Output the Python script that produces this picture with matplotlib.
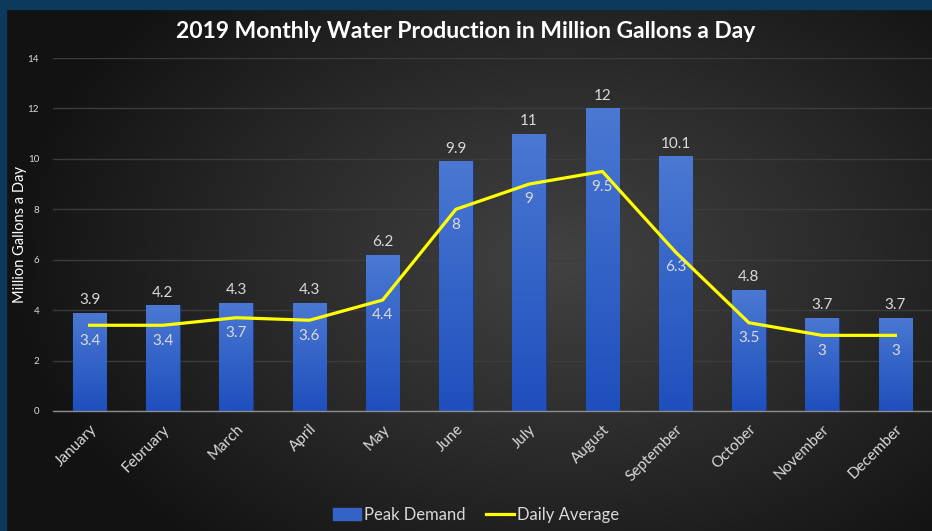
import numpy as np
import matplotlib
matplotlib.use("Agg")
import matplotlib.pyplot as plt
from matplotlib.colors import LinearSegmentedColormap
from matplotlib.patches import Rectangle
from matplotlib.lines import Line2D

months = ["January", "February", "March", "April", "May", "June",
          "July", "August", "September", "October", "November", "December"]
peak_demand = [3.9, 4.2, 4.3, 4.3, 6.2, 9.9, 11, 12, 10.1, 4.8, 3.7, 3.7]
daily_average = [3.4, 3.4, 3.7, 3.6, 4.4, 8, 9, 9.5, 6.3, 3.5, 3, 3]
y_ticks = [0, 2, 4, 6, 8, 10, 12, 14]

plt.rcParams["font.family"] = ["Lato", "DejaVu Sans"]
txt = "#d9d9d9"

fig = plt.figure(figsize=(9.32, 5.31), dpi=100)

# radial background
bg = fig.add_axes([0, 0, 1, 1], zorder=-10)
yy, xx = np.mgrid[0:531, 0:932]
r = np.sqrt(((xx - 560) / 560.0) ** 2 + ((yy - 260) / 380.0) ** 2)
r = np.clip(r, 0, 1)
bg_cmap = LinearSegmentedColormap.from_list("bg", ["#424242", "#2b2b2b", "#121212"])
bg.imshow(r, cmap=bg_cmap, aspect="auto", extent=[0, 1, 0, 1], origin="upper")
bg.set_xlim(0, 1)
bg.set_ylim(0, 1)
bg.axis("off")

# navy frame on top and left
fig.patches.append(Rectangle((0, 1 - 9 / 531), 1, 9 / 531, transform=fig.transFigure,
                             color="#0b3a5c", zorder=5))
fig.patches.append(Rectangle((0, 0), 6 / 932, 1, transform=fig.transFigure,
                             color="#0b3a5c", zorder=5))

ax = fig.add_axes([53 / 932, 120 / 531, 879 / 932, 353 / 531])
ax.patch.set_alpha(0)
x = np.arange(len(months))

bars = ax.bar(x, peak_demand, width=0.46, color="#3463c8", edgecolor="#1c3c86",
              linewidth=0.8, zorder=2, label="Peak Demand")
grad = LinearSegmentedColormap.from_list("bar", ["#1f4fbd", "#4a78d2"])
for b in bars:
    bx = b.get_x()
    im = ax.imshow(np.linspace(0, 1, 100).reshape(-1, 1), cmap=grad, aspect="auto",
                   origin="lower", extent=[bx, bx + b.get_width(), 0, b.get_height()],
                   zorder=2.5)
    im.set_clip_path(b)

ax.plot(x, daily_average, color="#ffff00", lw=2.3, zorder=4, label="Daily Average")

for i, v in enumerate(peak_demand):
    ax.annotate(f"{v:g}", (x[i], v), xytext=(0, 4), textcoords="offset points",
                ha="center", va="bottom", color=txt, fontsize=11, zorder=5)
for i, v in enumerate(daily_average):
    ax.annotate(f"{v:g}", (x[i], v), xytext=(0, -6), textcoords="offset points",
                ha="center", va="top", color=txt, fontsize=11, zorder=5)

ax.set_xlim(-0.5, len(months) - 0.5)
ax.set_ylim(0, 14)
ax.set_yticks(y_ticks)
ax.set_yticklabels([str(t) for t in y_ticks], color=txt, fontsize=7)
ax.set_xticks(x)
ax.set_xticklabels(months, rotation=45, ha="right", va="top", rotation_mode="anchor",
                   color=txt, fontsize=11)
ax.tick_params(length=0)
ax.tick_params(axis="y", pad=10)
ax.tick_params(axis="x", pad=8)
ax.grid(axis="y", color="#3c3c3c", lw=1, zorder=0)
for s in ["top", "right", "left"]:
    ax.spines[s].set_visible(False)
ax.spines["bottom"].set_color("#8c8c8c")
ax.spines["bottom"].set_linewidth(1)
ax.spines["bottom"].set_zorder(3)

ax.set_ylabel("Million Gallons a Day", color="white", fontsize=10.5)
ax.yaxis.label.set_va("center")
ax.yaxis.set_label_coords(-33 / 879, 0.5)

fig.text(0.5, 1 - 32 / 531, "2019 Monthly Water Production in Million Gallons a Day",
         ha="center", va="center", color="white", fontsize=16.5, fontweight="bold")

handles = [Rectangle((0, 0), 1, 1, color="#3463c8"),
           Line2D([0], [0], color="#ffff00", lw=2.3)]
fig.legend(handles, ["Peak Demand", "Daily Average"], loc="center",
           bbox_to_anchor=(476 / 932, 1 - 515 / 531), ncol=2, frameon=False,
           labelcolor=txt, fontsize=12, handlelength=1.7, handletextpad=0.2,
           columnspacing=1.2)

fig.savefig("out.png", dpi=100)
